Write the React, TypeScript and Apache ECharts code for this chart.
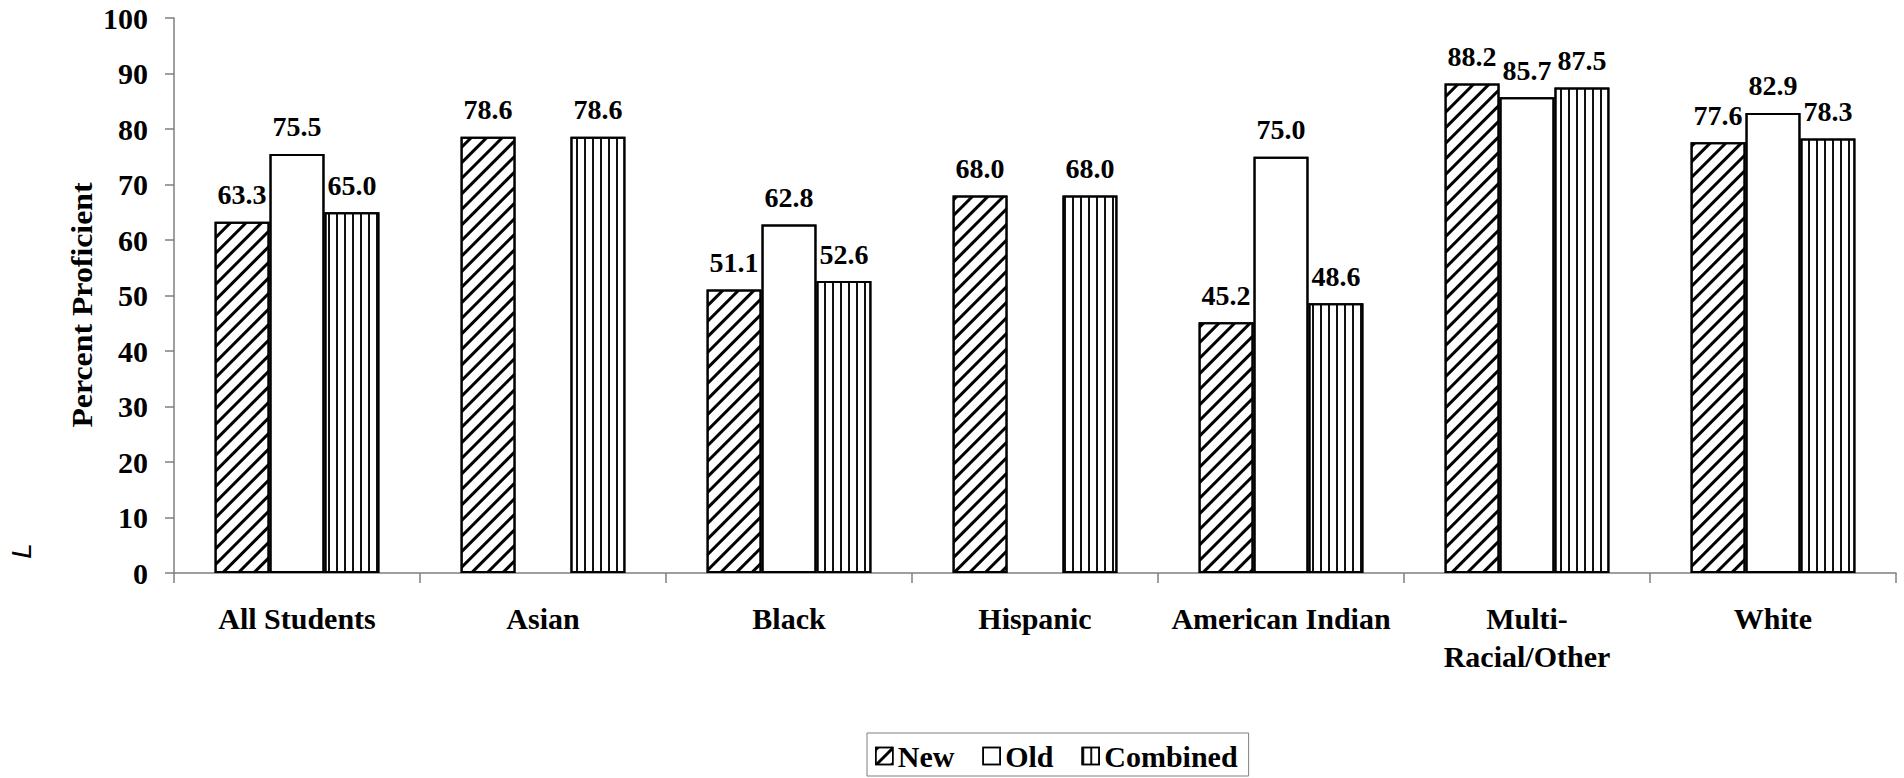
import React, { useEffect, useRef } from "react";
import * as echarts from "echarts";

const categories = [
  "All Students",
  "Asian",
  "Black",
  "Hispanic",
  "American Indian",
  "Multi-\nRacial/Other",
  "White",
];
const newValues = [63.3, 78.6, 51.1, 68.0, 45.2, 88.2, 77.6];
const oldValues: (number | null)[] = [75.5, null, 62.8, null, 75.0, 85.7, 82.9];
const combinedValues = [65.0, 78.6, 52.6, 68.0, 48.6, 87.5, 78.3];
const seriesNames = ["New", "Old", "Combined"];
const yMin = 0;
const yMax = 100;
const yInterval = 10;
const yTitle = "Percent Proficient";

const SERIF = '"Liberation Serif", "Times New Roman", serif';

export default function App() {
  const ref = useRef<HTMLDivElement>(null);
  useEffect(() => {
    if (!ref.current) return;
    const chart = echarts.init(ref.current, undefined, { renderer: "svg" });
    const labelCfg = {
      show: true,
      position: "top" as const,
      distance: 13,
      color: "#000",
      fontFamily: SERIF,
      fontWeight: "bold" as const,
      fontSize: 28,
      formatter: (p: any) => (p.value == null ? "" : Number(p.value).toFixed(1)),
    };
    const baseItem = { color: "#fff", borderColor: "#000", borderWidth: 2 };
    chart.setOption({
      animation: false,
      aria: { enabled: true, decal: { show: true } },
      grid: { left: 174, right: 8, top: 18, bottom: 205, containLabel: false },
      legend: {
        data: seriesNames,
        left: 867,
        top: 733,
        orient: "horizontal",
        icon: "rect",
        itemWidth: 17,
        itemHeight: 17,
        itemGap: 28,
        padding: [8, 11, 5, 8],
        borderColor: "#7f7f7f",
        borderWidth: 1,
        itemStyle: { borderColor: "#000", borderWidth: 1.5 },
        textStyle: {
          color: "#000",
          fontFamily: SERIF,
          fontWeight: "bold",
          fontSize: 30,
          padding: [0, 0, 0, 0],
        },
      },
      xAxis: {
        type: "category",
        data: categories,
        axisLine: { show: true, lineStyle: { color: "#7f7f7f", width: 1.5 } },
        axisTick: { show: true, length: 10, lineStyle: { color: "#7f7f7f", width: 1.5 } },
        axisLabel: {
          color: "#000",
          fontFamily: SERIF,
          fontWeight: "bold",
          fontSize: 30,
          lineHeight: 38,
          margin: 26,
          interval: 0,
        },
        splitLine: { show: false },
      },
      yAxis: {
        type: "value",
        min: yMin,
        max: yMax,
        interval: yInterval,
        axisLine: { show: true, lineStyle: { color: "#7f7f7f", width: 1.5 } },
        axisTick: { show: true, length: 9, lineStyle: { color: "#7f7f7f", width: 1.5 } },
        axisLabel: {
          color: "#000",
          fontFamily: SERIF,
          fontWeight: "bold",
          fontSize: 30,
          margin: 26,
        },
        splitLine: { show: false },
      },
      series: [
        {
          name: seriesNames[0],
          type: "bar",
          data: newValues,
          barGap: "0%",
          barCategoryGap: "33%",
          label: labelCfg,
          itemStyle: {
            ...baseItem,
            decal: {
              symbol: "rect",
              symbolSize: 1,
              color: "#000",
              dashArrayX: [1, 0],
              dashArrayY: [3, 7.6],
              rotation: -Math.PI / 4,
            },
          },
        },
        {
          name: seriesNames[1],
          type: "bar",
          data: oldValues,
          barGap: "0%",
          barCategoryGap: "33%",
          label: labelCfg,
          itemStyle: {
            ...baseItem,
            decal: {
              symbol: "rect",
              symbolSize: 1,
              color: "rgba(0,0,0,0)",
              dashArrayX: [1, 0],
              dashArrayY: [1, 0],
            },
          },
        },
        {
          name: seriesNames[2],
          type: "bar",
          data: combinedValues,
          barGap: "0%",
          barCategoryGap: "33%",
          label: labelCfg,
          itemStyle: {
            ...baseItem,
            decal: {
              symbol: "rect",
              symbolSize: 1,
              color: "#111",
              dashArrayX: [1.6, 5.9],
              dashArrayY: [1, 0],
              rotation: 0,
            },
          },
        },
      ],
      graphic: [
        {
          type: "text",
          x: 82,
          y: 305,
          rotation: Math.PI / 2,
          scaleX: 1.06,
          style: {
            text: yTitle,
            fill: "#000",
            font: `bold 30px ${SERIF}`,
            align: "center",
            verticalAlign: "middle",
          },
        },
        {
          type: "text",
          x: 21,
          y: 551,
          rotation: Math.PI / 2,
          style: {
            text: "L",
            fill: "#000",
            font: 'italic 28px "Liberation Sans", Arial, sans-serif',
            align: "center",
            verticalAlign: "middle",
          },
        },
      ],
    });
    return () => chart.dispose();
  }, []);
  return (
    <div
      ref={ref}
      style={{ position: "absolute", left: 0, top: 0, width: 1904, height: 778 }}
    />
  );
}
